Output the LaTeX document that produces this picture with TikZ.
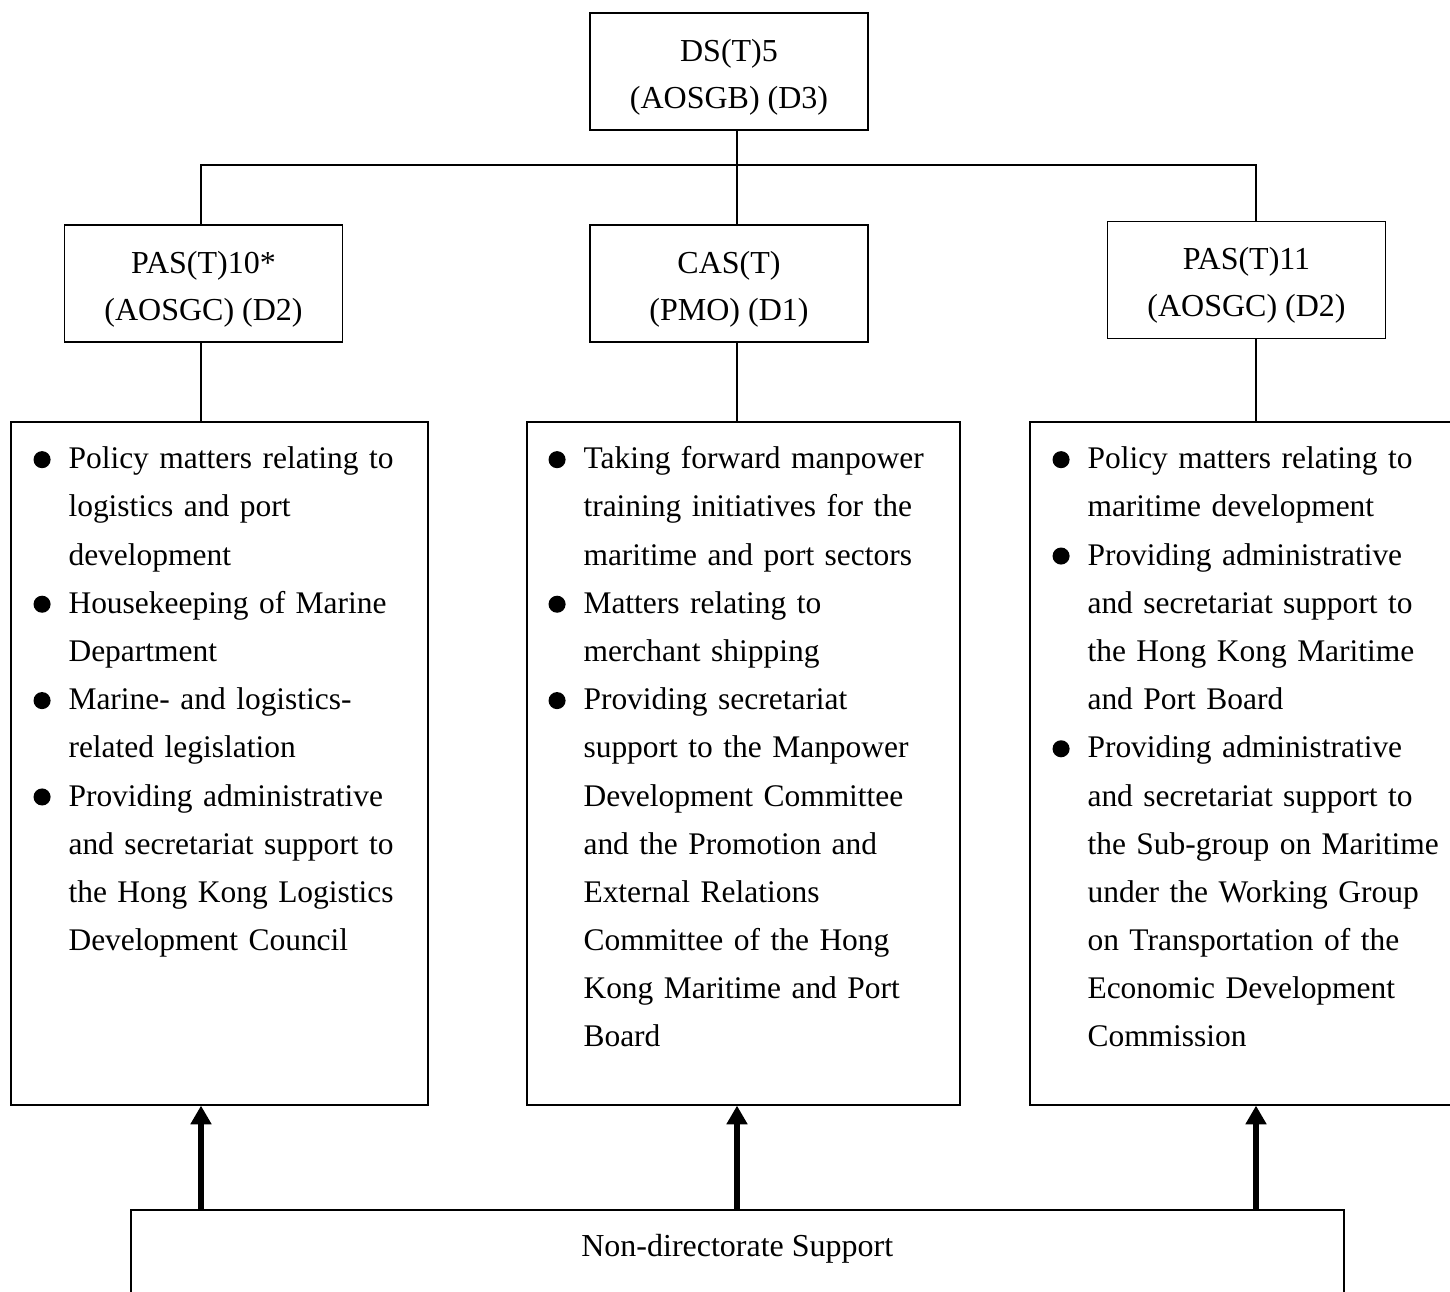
\documentclass[tikz,border=0pt]{standalone}
\usepackage{fontspec}
\setmainfont{Liberation Serif}
\usepackage{tikz}
\usetikzlibrary{positioning,arrows.meta}
\newlength\pxu
\setlength\pxu{0.375pt}
\setlength\parskip{0pt}
\newcommand{\blt}{\tikz[baseline=0pt]\fill (3.2pt,3.4pt) circle (3.2pt);}
\newcommand{\pstrut}{\rule{0pt}{12.6pt}}
\newcommand{\duty}[1]{\par\noindent\hspace*{-35\pxu}\makebox[35\pxu][l]{\blt}\strut#1}
\newcommand{\duties}[1]{\raggedright\leftskip=35\pxu #1\par}

\begin{document}
\begin{tikzpicture}[x=0.375pt, y=-0.375pt, line width=0.6pt,
        post/.style={rectangle, draw, minimum width=278*\pxu, minimum height=117*\pxu, align=center, inner sep=0pt, font=\fontsize{12pt}{17.6pt}\selectfont},
        duty/.style={rectangle, draw, minimum height=683*\pxu, inner sep=0pt, anchor=north west},
        list/.style={anchor=north west, inner sep=0pt, font=\fontsize{11.8pt}{18.07pt}\selectfont},
        arrow/.style={-{Triangle[length=7pt, width=7.5pt]}, line width=1.9pt}]

        \useasboundingbox (0,0) rectangle (1450,1291);
        \clip (0,0) rectangle (1450,1291);

        % posts
        \node[post] (ds) at (729,71.5) {\pstrut DS(T)5\\(AOSGB) (D3)};
        \node[post] (pasa) at (203.5,283.5) {\pstrut PAS(T)10*\\(AOSGC) (D2)};
        \node[post] (cas) at (729,283.5) {\pstrut CAS(T)\\(PMO) (D1)};
        \node[post] (pasb) at (1246.5,280) {\pstrut PAS(T)11\\(AOSGC) (D2)};

        \coordinate (bus) at (737,165);
        \coordinate (colA) at (201,0);
        \coordinate (colB) at (737,0);
        \coordinate (colC) at (1256,0);

        \draw (ds.south -| bus) -- (cas.north -| bus);
        \draw (pasa.north -| colA) |- (bus) -| (pasb.north -| colC);

        % duties
        \node[duty, minimum width=417*\pxu] (dutya) at (10,421) {};
        \node[duty, minimum width=433*\pxu] (dutyb) at (526,421) {};
        \node[duty, minimum width=460*\pxu] (dutyc) at (1029,421) {};

        \draw (pasa.south -| colA) -- (dutya.north -| colA);
        \draw (cas.south -| colB) -- (dutyb.north -| colB);
        \draw (pasb.south -| colC) -- (dutyc.north -| colC);

        \node[list, text width=385*\pxu] (lista) at (33,420) {\duties{%
            \duty{Policy matters relating to\\logistics and port\\development}
            \duty{Housekeeping of Marine\\Department}
            \duty{Marine- and logistics-\\related legislation}
            \duty{Providing administrative\\and secretariat support to\\the Hong Kong Logistics\\Development Council}}};
        \node[list, text width=395*\pxu] (listb) at (548,420) {\duties{%
            \duty{Taking forward manpower\\training initiatives for the\\maritime and port sectors}
            \duty{Matters relating to\\merchant shipping}
            \duty{Providing secretariat\\support to the Manpower\\Development Committee\\and the Promotion and\\External Relations\\Committee of the Hong\\Kong Maritime and Port\\Board}}};
        \node[list, text width=400*\pxu] (listc) at (1052,420) {\duties{%
            \duty{Policy matters relating to\\maritime development}
            \duty{Providing administrative\\and secretariat support to\\the Hong Kong Maritime\\and Port Board}
            \duty{Providing administrative\\and secretariat support to\\the Sub-group on Maritime\\under the Working Group\\on Transportation of the\\Economic Development\\Commission}}};

        % support
        \node[duty, minimum width=1213*\pxu, minimum height=200*\pxu] (support) at (130,1209) {};
        \node[anchor=base, font=\fontsize{12pt}{18pt}\selectfont] (supporttext) at ([yshift=-47*\pxu]support.north) {Non-directorate Support};

        \draw[arrow] (support.north -| colA) -- (dutya.south -| colA);
        \draw[arrow] (support.north -| colB) -- (dutyb.south -| colB);
        \draw[arrow] (support.north -| colC) -- (dutyc.south -| colC);
    \end{tikzpicture}
\end{document}
